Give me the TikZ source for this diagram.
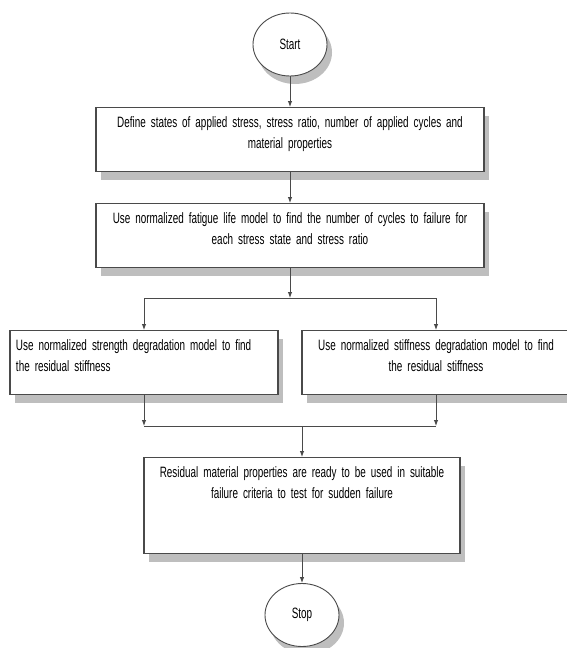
\documentclass[tikz,border=0pt]{standalone}
\usepackage{fontspec}
\setmainfont{Liberation Sans}[FakeStretch=0.66]
\usepackage{xcolor}
\usepackage{tikz}
\usetikzlibrary{arrows.meta,shapes.geometric,shadows}
\definecolor{edge}{HTML}{4A4A4A}
\definecolor{shade}{HTML}{BEBEBE}
\tikzset{
  shade/.style={drop shadow={shadow xshift=5pt, shadow yshift=-8pt, fill=shade, opacity=1}},
  box/.style={draw=edge, line width=1.1pt, fill=white, shade, inner xsep=6pt, inner ysep=7pt,
    text height=13pt, font=\fontsize{15}{21}\selectfont, anchor=north},
  term/.style={ellipse, draw=edge, line width=0.9pt, fill=white, shade, inner sep=0pt,
    minimum width=74pt, minimum height=63pt, font=\fontsize{15}{21}\selectfont},
  line/.style={draw=edge, line width=0.9pt},
  arr/.style={line, -{Latex[length=6pt,width=4.5pt]}},
}

\begin{document}
\begin{tikzpicture}[x=1pt, y=-1pt]
  \useasboundingbox (0,0) rectangle (566,648);
  \pgfmathsetmacro{\fy}{298} % fork line
  \pgfmathsetmacro{\my}{426} % merge line
  \node[term] (start) at (290,44.5) {Start};
  \node[box, text width=376pt, align=center, text depth=37pt] (define) at (290,107)
    {Define states of applied stress, stress ratio, number of applied cycles and\\material properties};
  \node[box, text width=376pt, align=center, text depth=37pt] (life) at (290,203)
    {Use normalized fatigue life model to find the number of cycles to failure for\\each stress state and stress ratio};
  \node[box, text width=256pt, align=left, text depth=37pt] (strength) at (144,330)
    {Use normalized strength degradation model to find\\the residual stiffness};
  \node[box, text width=256pt, align=center, text depth=37pt] (stiffness) at (436,330)
    {Use normalized stiffness degradation model to find\\the residual stiffness};
  \node[box, text width=304pt, align=center, text depth=69pt] (residual) at (302,457)
    {Residual material properties are ready to be used in suitable\\failure criteria to test for sudden failure};
  \node[term] (stop) at (302,615) {Stop};
  \coordinate (fork) at (290,\fy);
  \coordinate (fl) at (144,\fy);
  \coordinate (fr) at (436,\fy);
  \coordinate (ml) at (144,\my);
  \coordinate (mr) at (436,\my);
  \coordinate (join) at (302,\my);
  \draw[arr] (start) -- (define);
  \draw[arr] (define) -- (life);
  \draw[arr] (life) -- (fork);
  \draw[line] (fl) -- (fr);
  \draw[arr] (fl) -- (strength);
  \draw[arr] (fr) -- (stiffness);
  \draw[arr] (strength) -- (ml);
  \draw[arr] (stiffness) -- (mr);
  \draw[line] (ml) -- (mr);
  \draw[arr] (join) -- (residual);
  \draw[arr] (residual) -- (stop);
\end{tikzpicture}
\end{document}
